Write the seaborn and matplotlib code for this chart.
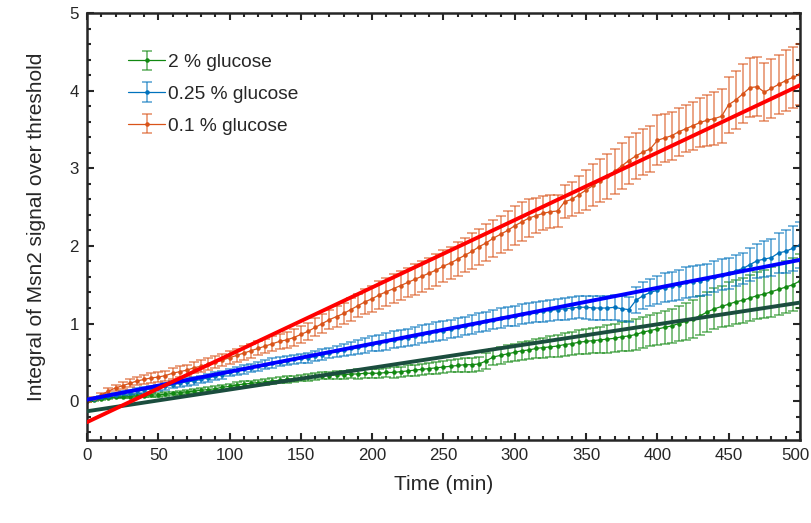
import numpy as np
import pandas as pd
import matplotlib
matplotlib.use("Agg")
import matplotlib.pyplot as plt
import matplotlib.transforms as mtransforms
from matplotlib.colors import to_rgba
from matplotlib.ticker import MultipleLocator, FixedLocator
import seaborn as sns

# ---------------- data ----------------
time_min = np.arange(0, 501, 5)

series_labels = ["2 % glucose", "0.25 % glucose", "0.1 % glucose"]
x_tick_values = [0, 50, 100, 150, 200, 250, 300, 350, 400, 450, 500]

green_mean = [
    0.00, 0.01, 0.03, 0.04, 0.05, 0.05, 0.06, 0.07, 0.07, 0.08,
    0.08, 0.09, 0.10, 0.11, 0.12, 0.13, 0.14, 0.15, 0.16, 0.18,
    0.19, 0.21, 0.22, 0.23, 0.24, 0.25, 0.26, 0.27, 0.28, 0.29,
    0.30, 0.31, 0.32, 0.33, 0.33, 0.34, 0.34, 0.35, 0.35, 0.36,
    0.36, 0.36, 0.37, 0.37, 0.38, 0.39, 0.40, 0.41, 0.42, 0.43,
    0.44, 0.45, 0.46, 0.47, 0.47, 0.48, 0.52, 0.57, 0.59, 0.61,
    0.63, 0.65, 0.66, 0.68, 0.69, 0.70, 0.71, 0.73, 0.74, 0.76,
    0.77, 0.78, 0.79, 0.80, 0.81, 0.83, 0.84, 0.86, 0.89, 0.91,
    0.93, 0.95, 0.97, 1.00, 1.03, 1.06, 1.10, 1.15, 1.19, 1.22,
    1.25, 1.28, 1.30, 1.33, 1.36, 1.38, 1.41, 1.44, 1.47, 1.50,
    1.55]
green_err = [
    0.005, 0.01, 0.01, 0.012, 0.014, 0.015, 0.016, 0.018, 0.02, 0.02,
    0.02, 0.022, 0.024, 0.025, 0.026, 0.028, 0.03, 0.03, 0.03, 0.03,
    0.03, 0.032, 0.034, 0.035, 0.036, 0.037, 0.038, 0.039, 0.04, 0.04,
    0.04, 0.045, 0.045, 0.05, 0.05, 0.05, 0.055, 0.055, 0.06, 0.06,
    0.06, 0.06, 0.06, 0.065, 0.065, 0.07, 0.07, 0.075, 0.075, 0.08,
    0.08, 0.08, 0.085, 0.09, 0.09, 0.095, 0.10, 0.10, 0.105, 0.11,
    0.11, 0.115, 0.12, 0.125, 0.13, 0.135, 0.14, 0.145, 0.15, 0.155,
    0.16, 0.165, 0.17, 0.175, 0.18, 0.185, 0.19, 0.195, 0.20, 0.205,
    0.21, 0.215, 0.22, 0.23, 0.24, 0.245, 0.25, 0.26, 0.265, 0.27,
    0.28, 0.285, 0.29, 0.30, 0.305, 0.31, 0.32, 0.325, 0.33, 0.34,
    0.35]

blue_mean = [
    0.01, 0.03, 0.05, 0.07, 0.08, 0.10, 0.11, 0.13, 0.14, 0.16,
    0.17, 0.19, 0.21, 0.23, 0.25, 0.26, 0.28, 0.30, 0.32, 0.34,
    0.37, 0.39, 0.41, 0.43, 0.45, 0.47, 0.49, 0.51, 0.52, 0.54,
    0.55, 0.56, 0.58, 0.60, 0.62, 0.64, 0.66, 0.68, 0.70, 0.72,
    0.74, 0.75, 0.77, 0.79, 0.81, 0.82, 0.84, 0.86, 0.88, 0.90,
    0.91, 0.93, 0.95, 0.97, 0.99, 1.01, 1.03, 1.05, 1.07, 1.09,
    1.10, 1.12, 1.14, 1.15, 1.16, 1.17, 1.18, 1.19, 1.20, 1.21,
    1.21, 1.20, 1.20, 1.20, 1.21, 1.19, 1.18, 1.30, 1.36, 1.40,
    1.43, 1.46, 1.48, 1.50, 1.53, 1.54, 1.55, 1.57, 1.60, 1.63,
    1.65, 1.68, 1.71, 1.76, 1.81, 1.83, 1.85, 1.91, 1.93, 1.97,
    2.01]
blue_err = [
    0.01, 0.015, 0.02, 0.025, 0.03, 0.03, 0.035, 0.035, 0.04, 0.04,
    0.04, 0.045, 0.045, 0.045, 0.05, 0.05, 0.05, 0.05, 0.05, 0.05,
    0.05, 0.055, 0.055, 0.055, 0.06, 0.06, 0.06, 0.06, 0.06, 0.06,
    0.06, 0.065, 0.065, 0.07, 0.07, 0.075, 0.08, 0.085, 0.09, 0.095,
    0.10, 0.10, 0.11, 0.11, 0.11, 0.11, 0.11, 0.115, 0.115, 0.12,
    0.12, 0.12, 0.12, 0.12, 0.12, 0.12, 0.12, 0.12, 0.125, 0.125,
    0.13, 0.13, 0.13, 0.13, 0.135, 0.135, 0.14, 0.14, 0.14, 0.145,
    0.15, 0.15, 0.15, 0.155, 0.16, 0.16, 0.165, 0.17, 0.175, 0.18,
    0.18, 0.185, 0.19, 0.195, 0.20, 0.20, 0.20, 0.20, 0.20, 0.20,
    0.20, 0.20, 0.20, 0.21, 0.22, 0.23, 0.24, 0.26, 0.28, 0.29,
    0.30]

orange_mean = [
    0.00, 0.04, 0.08, 0.13, 0.17, 0.20, 0.23, 0.26, 0.28, 0.30,
    0.31, 0.33, 0.36, 0.38, 0.40, 0.43, 0.45, 0.48, 0.50, 0.53,
    0.56, 0.59, 0.62, 0.65, 0.68, 0.71, 0.74, 0.77, 0.79, 0.82,
    0.86, 0.90, 0.95, 1.00, 1.05, 1.09, 1.13, 1.18, 1.23, 1.28,
    1.32, 1.37, 1.41, 1.45, 1.49, 1.53, 1.57, 1.61, 1.65, 1.69,
    1.74, 1.78, 1.83, 1.88, 1.93, 1.99, 2.04, 2.10, 2.15, 2.20,
    2.26, 2.31, 2.36, 2.39, 2.42, 2.44, 2.45, 2.57, 2.60, 2.66,
    2.72, 2.78, 2.84, 2.90, 2.96, 3.03, 3.10, 3.16, 3.21, 3.25,
    3.36, 3.39, 3.42, 3.47, 3.51, 3.55, 3.59, 3.62, 3.64, 3.67,
    3.82, 3.88, 3.96, 4.04, 4.05, 3.98, 4.03, 4.08, 4.13, 4.17,
    4.21]
orange_err = [
    0.01, 0.02, 0.03, 0.035, 0.04, 0.045, 0.05, 0.055, 0.06, 0.06,
    0.065, 0.065, 0.07, 0.07, 0.07, 0.072, 0.075, 0.075, 0.078, 0.08,
    0.08, 0.085, 0.085, 0.09, 0.09, 0.095, 0.095, 0.10, 0.10, 0.105,
    0.11, 0.11, 0.115, 0.12, 0.12, 0.13, 0.14, 0.15, 0.15, 0.16,
    0.17, 0.18, 0.18, 0.19, 0.19, 0.19, 0.20, 0.20, 0.20, 0.21,
    0.21, 0.21, 0.22, 0.22, 0.23, 0.23, 0.24, 0.24, 0.24, 0.25,
    0.25, 0.25, 0.24, 0.23, 0.22, 0.21, 0.21, 0.21, 0.22, 0.24,
    0.26, 0.27, 0.28, 0.29, 0.29, 0.30, 0.30, 0.30, 0.30, 0.30,
    0.32, 0.31, 0.31, 0.31, 0.30, 0.31, 0.32, 0.33, 0.34, 0.35,
    0.36, 0.37, 0.38, 0.38, 0.38, 0.37, 0.38, 0.38, 0.39, 0.39,
    0.39]

# linear fits: value at the start and at the end of the time range
fit_time = [0, 500]
fit_names = ["fit 2 %", "fit 0.25 %", "fit 0.1 %"]
fit_green = [-0.13, 1.27]
fit_blue = [0.02, 1.82]
fit_red = [-0.27, 4.07]

# ---------------- style ----------------
sns.set_theme(style="ticks")
plt.rcParams['font.family'] = ['Liberation Sans', 'DejaVu Sans']
dark = "#262626"

fig = plt.figure(figsize=(8.12, 5.23), dpi=100)
ax = fig.add_axes([87 / 812, 83 / 523, 713 / 812, 427 / 523])

data_colors = ["#118811", "#0072BD", "#D95319"]
means = [green_mean, blue_mean, orange_mean]
errs = [green_err, blue_err, orange_err]

for label, m, e, c in zip(series_labels, means, errs, data_colors):
    ax.errorbar(time_min, m, yerr=e, color=c, lw=0.9, marker='.', ms=4.5,
                ecolor=to_rgba(c, 0.62), elinewidth=1.2, capsize=3.8,
                capthick=1.2, label=label, zorder=2)

fit_df = pd.DataFrame({
    "time": fit_time * 3,
    "value": fit_green + fit_blue + fit_red,
    "fit": [fit_names[0]] * 2 + [fit_names[1]] * 2 + [fit_names[2]] * 2,
})
sns.lineplot(data=fit_df, x="time", y="value", hue="fit",
             palette={fit_names[0]: "#1B4D3E", fit_names[1]: "#0000FF",
                      fit_names[2]: "#FF0000"},
             lw=2.8, legend=False, ax=ax, zorder=3)

ax.set_xlim(0, 500)
ax.set_ylim(-0.5, 5)
ax.xaxis.set_major_locator(FixedLocator(x_tick_values))
ax.xaxis.set_minor_locator(MultipleLocator(10))
ax.yaxis.set_major_locator(MultipleLocator(1))
ax.yaxis.set_minor_locator(MultipleLocator(0.2))
ax.tick_params(which='both', direction='in', top=True, right=True,
               bottom=True, left=True, color=dark, labelcolor=dark,
               labelsize=12.2)
ax.tick_params(which='major', length=5, width=1.5, pad=6)
ax.tick_params(which='minor', length=2.8, width=1.5)
for sp in ax.spines.values():
    sp.set_linewidth(1.8)
    sp.set_color(dark)

ax.set_xlabel("Time (min)", fontsize=15, color=dark, labelpad=8.5)
ax.set_ylabel("Integral of Msn2 signal over threshold", fontsize=15,
              color=dark, labelpad=17)

ax.legend(loc='upper left', bbox_to_anchor=(0.058, 0.905), frameon=False,
          fontsize=13.8, handlelength=1.9, handletextpad=0.15,
          labelspacing=0.75, borderaxespad=0, borderpad=0)

# keep the last x tick label inside the figure edge (right-aligned, nudged)
fig.canvas.draw()
last_tick = ax.xaxis.get_major_ticks()[len(x_tick_values) - 1]
last_tick.label1.set_horizontalalignment('right')
last_tick.label1.set_transform(
    last_tick.label1.get_transform() +
    mtransforms.ScaledTranslation(10 / 100, 0, fig.dpi_scale_trans))

fig.savefig("out.png", dpi=100)
